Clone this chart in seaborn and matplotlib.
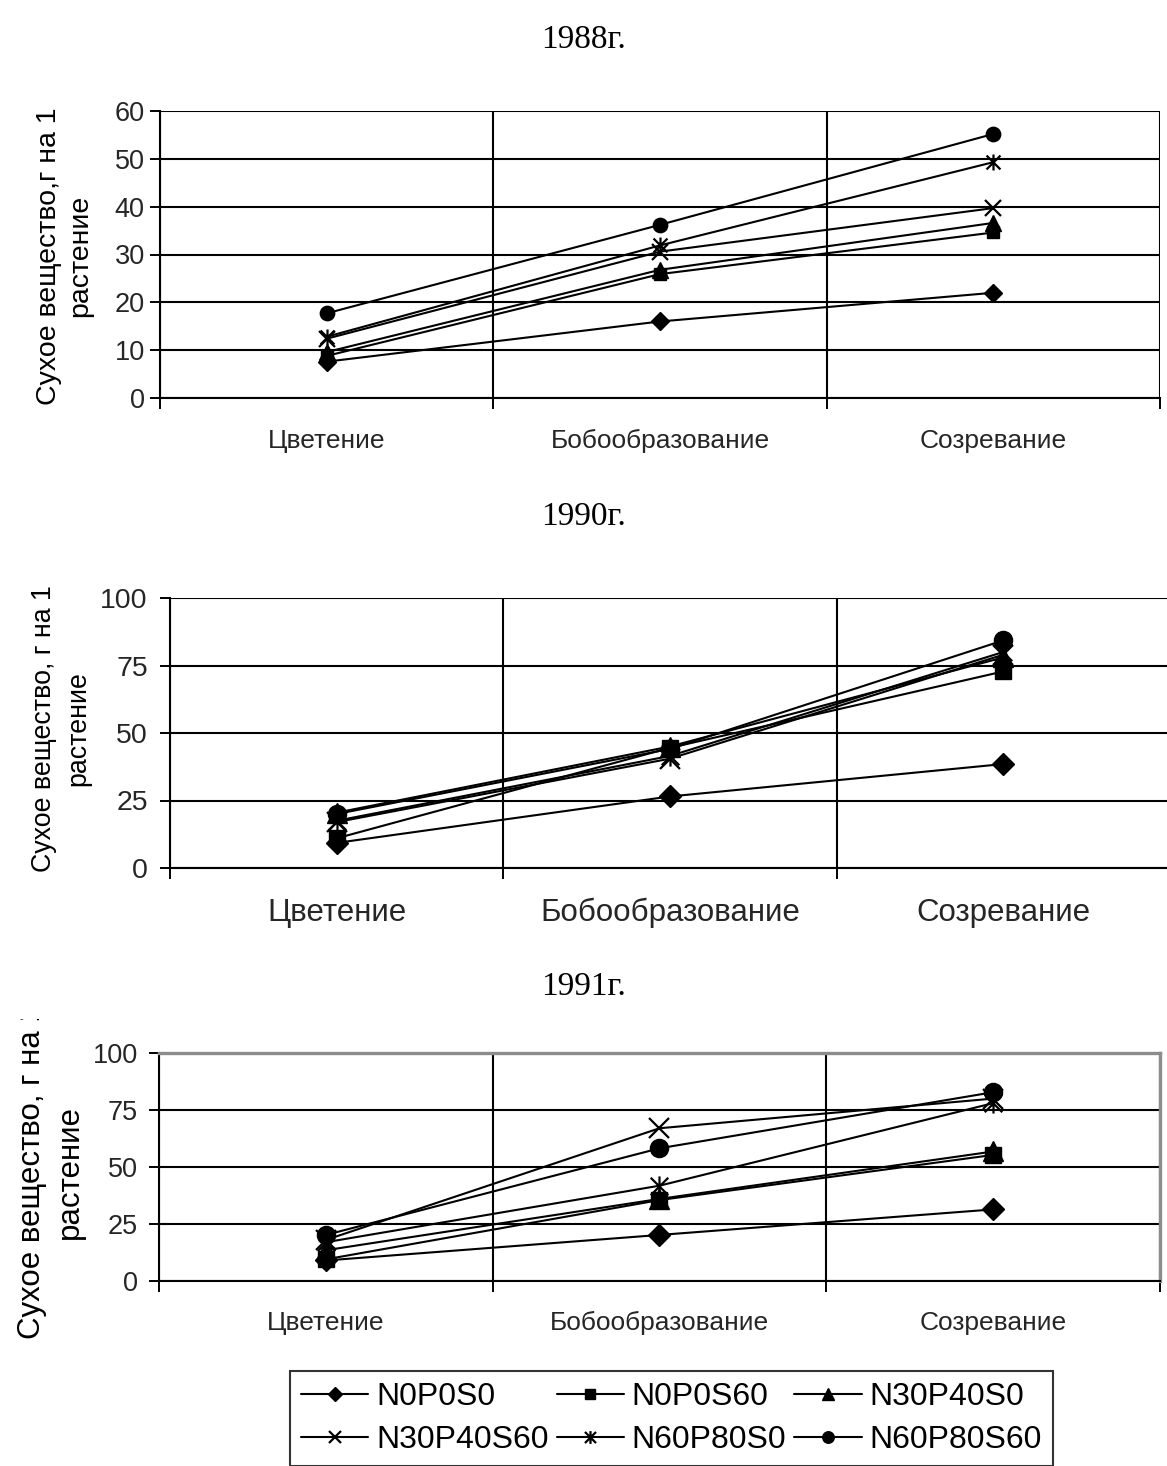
import matplotlib
matplotlib.use("Agg")
import matplotlib.pyplot as plt
import seaborn as sns
from matplotlib.path import Path
from matplotlib.transforms import Bbox, TransformedBbox

# Фазы развития и варианты удобрений
stages = ["Цветение", "Бобообразование", "Созревание"]
treatments = ["N0P0S0", "N0P0S60", "N30P40S0", "N30P40S60", "N60P80S0", "N60P80S60"]

# Сухое вещество, г на 1 растение
dm_1988 = {
    "N0P0S0": [7.6, 16.0, 22.0],
    "N0P0S60": [8.8, 25.9, 34.6],
    "N30P40S0": [9.6, 26.8, 36.6],
    "N30P40S60": [12.4, 30.6, 39.7],
    "N60P80S0": [12.8, 31.9, 49.3],
    "N60P80S60": [17.7, 36.2, 55.2],
}
dm_1990 = {
    "N0P0S0": [9.3, 26.5, 38.5],
    "N0P0S60": [11.0, 44.5, 72.8],
    "N30P40S0": [20.5, 45.0, 78.0],
    "N30P40S60": [17.0, 40.5, 79.0],
    "N60P80S0": [17.5, 41.5, 80.0],
    "N60P80S60": [20.0, 44.1, 84.3],
}
dm_1991 = {
    "N0P0S0": [9.0, 20.2, 31.4],
    "N0P0S60": [9.5, 35.5, 55.3],
    "N30P40S0": [13.5, 36.0, 56.8],
    "N30P40S60": [18.0, 67.0, 80.0],
    "N60P80S0": [17.0, 41.8, 78.0],
    "N60P80S60": [20.2, 58.2, 82.8],
}

sns.set_theme(style="white")
plt.rcParams["font.family"] = ["Liberation Sans", "DejaVu Sans"]
plt.rcParams["text.color"] = "black"

W, H = 1167, 1466
fig = plt.figure(figsize=(W / 100, H / 100), dpi=100)


def fx(px):
    return px / W


def fy(py):
    return 1 - py / H


# Звёздочка: косой крест с вертикальной чертой
asterisk = Path(
    [(-1, -1), (1, 1), (-1, 1), (1, -1), (0, -1.15), (0, 1.15)],
    [Path.MOVETO, Path.LINETO, Path.MOVETO, Path.LINETO, Path.MOVETO, Path.LINETO],
)

marker_style = {
    "N0P0S0": dict(marker="D", size=0.8, filled=True),
    "N0P0S60": dict(marker="s", size=0.78, filled=True),
    "N30P40S0": dict(marker="^", size=0.95, filled=True),
    "N30P40S60": dict(marker="x", size=1.0, filled=False),
    "N60P80S0": dict(marker=asterisk, size=1.0, filled=False),
    "N60P80S60": dict(marker="o", size=0.9, filled=True),
}

panels = [
    dict(data=dm_1988, title="1988г.", title_y=40,
         box=(160, 111, 1160, 398), ylim=(0, 60), yticks=range(0, 61, 10),
         ylabel="Сухое вещество,г на 1\nрастение", ylab_xy=(65, 256), ylab_fs=20.5,
         ylab_ls=1.25, ytick_fs=19.5, ytick_pad=4, xtick_fs=19, xtick_pad=22,
         ms=11.5, gray_frame=False, clip_label=None),
    dict(data=dm_1990, title="1990г.", title_y=517,
         box=(170, 598, 1170, 868), ylim=(0, 100), yticks=range(0, 101, 25),
         ylabel="Сухое вещество, г на 1\nрастение", ylab_xy=(61, 729), ylab_fs=19.3,
         ylab_ls=1.4, ytick_fs=20.5, ytick_pad=9, xtick_fs=22.5, xtick_pad=21.5,
         ms=14.5, gray_frame=False, clip_label=None),
    dict(data=dm_1991, title="1991г.", title_y=987,
         box=(159, 1053, 1160, 1281), ylim=(0, 100), yticks=range(0, 101, 25),
         ylabel="Сухое вещество, г на 1\nрастение", ylab_xy=(51, 1172), ylab_fs=22.5,
         ylab_ls=1.35, ytick_fs=19.5, ytick_pad=8, xtick_fs=19, xtick_pad=21.5,
         ms=14.5, gray_frame=True, clip_label=1019),
]

xpos = list(range(len(stages)))
axes = []
for p in panels:
    l, t, r, b = p["box"]
    ax = fig.add_axes([fx(l), fy(b), (r - l) / W, (b - t) / H])
    axes.append(ax)
    ax.set_axisbelow(True)

    for name in treatments:
        st = marker_style[name]
        kws = dict(
            marker=st["marker"],
            markersize=p["ms"] * st["size"],
            markeredgecolor="black",
            markeredgewidth=1.6 if not st["filled"] else 1.0,
            markerfacecolor="black" if st["filled"] else "none",
        )
        sns.lineplot(x=xpos, y=p["data"][name], ax=ax, color="black",
                     linewidth=1.5, label=name, legend=False, **kws)

    ax.set_xlim(-0.5, len(stages) - 0.5)
    ax.set_ylim(*p["ylim"])
    ax.set_yticks(list(p["yticks"]))
    ax.set_xticks([i - 0.5 for i in range(len(stages) + 1)])
    ax.set_xticklabels([])
    ax.set_xticks(xpos, minor=True)
    ax.set_xticklabels(stages, minor=True, fontsize=p["xtick_fs"])
    ax.tick_params(axis="x", which="minor", length=0, pad=p["xtick_pad"])
    ax.tick_params(axis="x", which="major", direction="out", length=8,
                   width=1.4, color="black", bottom=True)
    ax.tick_params(axis="y", direction="out", length=7, width=1.4,
                   color="black", left=True, labelsize=p["ytick_fs"],
                   pad=p["ytick_pad"])
    ax.grid(True, which="major", color="black", linewidth=1.5)
    ax.set_xlabel("")
    ax.set_ylabel("")

    for side in ("left", "bottom"):
        ax.spines[side].set_color("black")
        ax.spines[side].set_linewidth(1.5)
    for side in ("top", "right"):
        if p["gray_frame"]:
            ax.spines[side].set_color("#8c8c8c")
            ax.spines[side].set_linewidth(2.4)
        else:
            ax.spines[side].set_visible(False)

    fig.text(0.5, fy(p["title_y"]), p["title"], ha="center", va="center",
             fontsize=24, family=["Liberation Serif", "DejaVu Serif"])

    lab = fig.text(fx(p["ylab_xy"][0]), fy(p["ylab_xy"][1]), p["ylabel"],
                   rotation=90, ha="center", va="center",
                   multialignment="center", fontsize=p["ylab_fs"],
                   linespacing=p["ylab_ls"])
    if p["clip_label"] is not None:
        lab.set_clip_box(TransformedBbox(
            Bbox([[0, 0], [1, fy(p["clip_label"])]]), fig.transFigure))
        lab.set_clip_on(True)

# Общая легенда внизу
handles, labels = axes[0].get_legend_handles_labels()
order = [0, 3, 1, 4, 2, 5]
leg = fig.legend([handles[i] for i in order], [labels[i] for i in order],
                 loc="upper left", bbox_to_anchor=(fx(290), fy(1371)),
                 ncol=3, frameon=True, fancybox=False, edgecolor="black",
                 fontsize=23, handlelength=2.1, handletextpad=0.25,
                 columnspacing=0.25, labelspacing=0.4, borderpad=0.35,
                 borderaxespad=0, markerscale=0.8)
leg.get_frame().set_linewidth(1.5)

fig.savefig("out.png", dpi=100)
